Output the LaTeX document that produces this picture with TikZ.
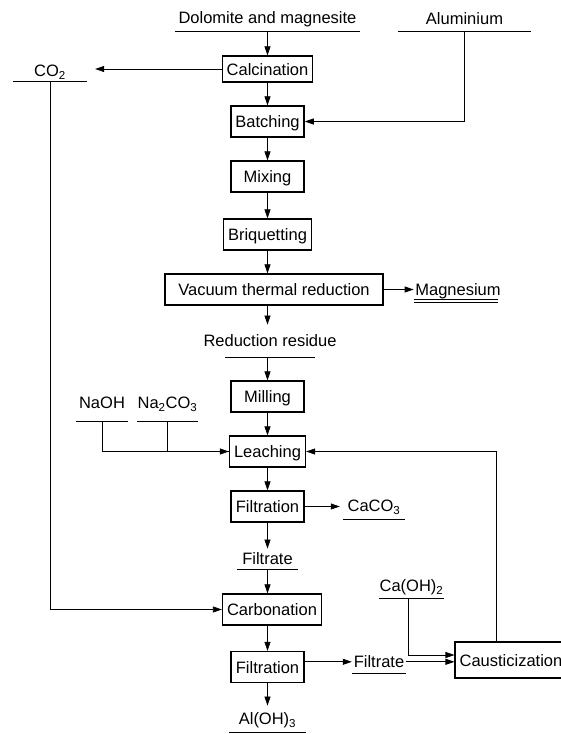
\documentclass[tikz,border=0pt]{standalone}
\usepackage{fontspec}
\setmainfont{Liberation Sans}
\usepackage{tikz}
\usetikzlibrary{arrows.meta}
\tikzstyle{arrow} = [line width=0.7pt,-{Triangle[length=9pt,width=6pt]}]
\tikzstyle{link} = [line width=0.7pt]
\tikzstyle{process} = [
    rectangle, minimum width=73pt, minimum height=31pt, inner xsep=4.5pt,
    text height=12pt, text depth=0pt, draw=black, line width=1.3pt,
    font=\fontsize{16.5}{20}\selectfont]
\tikzstyle{stream} = [
    anchor=south, inner xsep=0pt, inner ysep=6pt,
    text height=12pt, text depth=0pt, font=\fontsize{16.5}{20}\selectfont]

\begin{document}
\begin{tikzpicture}[x=1pt,y=-1pt]
\useasboundingbox (0,0) rectangle (561,734);

% main line
\node (dolomite) [stream, minimum width=185pt, inner ysep=7pt] at (267.5,31) {Dolomite and magnesite};
\node (aluminium) [stream, minimum width=133pt] at (464.5,31) {Aluminium};
\node (calcination) [process, minimum height=26pt] at (267.5,69) {Calcination};
\node (co2-out) [stream, minimum width=74pt, inner ysep=4pt] at (50,81) {CO\textsubscript{2}};
\node (batching) [process] at (267.5,121.5) {Batching};
\node (mixing) [process] at (267.5,176.5) {Mixing};
\node (briquetting) [process] at (267.5,234.5) {Briquetting};
\node (reduction) [process, minimum width=218pt] at (274,289.5) {Vacuum thermal reduction};
\node (magnesium) [stream, anchor=center, inner xsep=1.5pt, inner ysep=3pt] at (458,289.5) {Magnesium};
\node (residue) [stream, inner ysep=10pt] at (270,357) {Reduction residue};

% leaching
\node (milling) [process] at (267.5,396.5) {Milling};
\node (naoh) [stream, minimum width=52pt, inner ysep=12pt] at (102,421) {NaOH};
\node (na2co3) [stream, minimum width=51pt, inner ysep=12pt] at (167.5,421) {Na\textsubscript{2}CO\textsubscript{3}};
\node (leaching) [process] at (267.5,451.5) {Leaching};
\node (filtration-1) [process] at (267.5,506.5) {Filtration};
\node (caco3) [stream, minimum width=62pt, inner ysep=7pt] at (374,519) {CaCO\textsubscript{3}};
\node (filtrate-1) [stream, minimum width=61pt, inner ysep=4pt] at (267.5,569) {Filtrate};

% carbonation
\node (carbonation) [process] at (272,609.5) {Carbonation};
\node (filtration-2) [process] at (267.5,667) {Filtration};
\node (filtrate-2) [stream, minimum width=54pt, inner ysep=5pt] at (379,673) {Filtrate};
\node (caoh2) [stream, minimum width=61pt] at (411.5,598) {Ca(OH)\textsubscript{2}};
\node (causticization) [process, minimum height=36pt] at (511,660) {Causticization};
\node (aloh3) [stream, minimum width=76pt, inner ysep=7pt] at (267.5,732) {Al(OH)\textsubscript{3}};

% underlines
\draw [link] (dolomite.south west) -- (dolomite.south east);
\draw [link] (aluminium.south west) -- (aluminium.south east);
\draw [link] (co2-out.south west) -- (co2-out.south east);
\draw [line width=0.6pt] ([yshift=-1pt]magnesium.south west) -- ([yshift=-1pt,xshift=-4pt]magnesium.south east);
\draw [line width=0.6pt] ([yshift=-4pt]magnesium.south west) -- ([yshift=-4pt,xshift=-4pt]magnesium.south east);
\draw [link, shorten <=22pt, shorten >=22pt] (residue.south west) -- (residue.south east);
\draw [link] (naoh.south west) -- (naoh.south east);
\draw [link] (na2co3.south west) -- (na2co3.south east);
\draw [link] (caco3.south west) -- (caco3.south east);
\draw [link] (filtrate-1.south west) -- (filtrate-1.south east);
\draw [link] (filtrate-2.south west) -- (filtrate-2.south east);
\draw [link] (caoh2.south west) -- (caoh2.south east);
\draw [link] (aloh3.south west) -- (aloh3.south east);

\draw [arrow] (dolomite) -- (calcination);
\draw [arrow, shorten >=8pt] (calcination.west) -- (calcination.west -| co2-out.east);
\draw [arrow] (calcination) -- (batching);
\draw [arrow] (aluminium) |- (batching);
\draw [arrow] (batching) -- (mixing);
\draw [arrow] (mixing) -- (briquetting);
\draw [arrow] (briquetting) -- (briquetting |- reduction.north);
\draw [arrow] (reduction) -- (magnesium);
\draw [arrow] (briquetting |- reduction.south) -- (briquetting |- residue.north);
\draw [arrow] (residue.south -| milling) -- (milling);
\draw [arrow] (milling) -- (leaching);
\draw [arrow] (naoh) |- (leaching);
\draw [link] (na2co3) |- (leaching);
\draw [arrow] ([xshift=-15pt]causticization.north) |- (leaching);
\draw [arrow] (leaching) -- (filtration-1);
\draw [arrow, shorten >=3pt] (filtration-1) -- (filtration-1 -| caco3.west);
\draw [arrow] (filtration-1) -- (filtrate-1);
\draw [arrow] (filtrate-1) -- (filtrate-1 |- carbonation.north);
\draw [arrow] (co2-out) |- (carbonation);
\draw [arrow] (carbonation.south -| filtration-2) -- (filtration-2);
\draw [arrow] (filtration-2.east |- filtrate-2) -- (filtrate-2);
\draw [arrow] (filtrate-2.east) -- (filtrate-2.east -| causticization.west);
\draw [arrow] ([xshift=-3pt]caoh2.south) |- ([yshift=5pt]causticization.west);
\draw [arrow] (filtration-2) -- (aloh3);
\end{tikzpicture}
\end{document}
